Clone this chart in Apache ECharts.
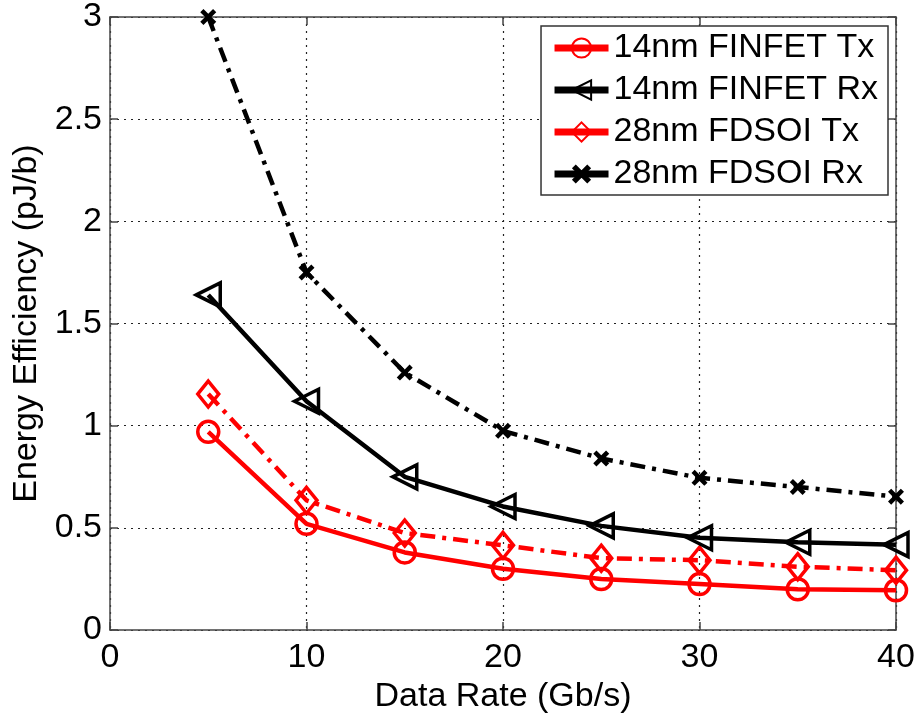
<!DOCTYPE html>
<html>
<head>
<meta charset="utf-8">
<script src="https://cdn.jsdelivr.net/npm/echarts@6/dist/echarts.min.js"></script>
<style>
  html, body { margin: 0; padding: 0; background: #fff; }
  #chart { width: 920px; height: 719px; }
</style>
</head>
<body>
<div id="chart"></div>
<script>
// Data rate (Gb/s)
const dataRates = [5, 10, 15, 20, 25, 30, 35, 40];
// Energy efficiency (pJ/b)
const finfetTx = [0.97, 0.52, 0.38, 0.30, 0.25, 0.225, 0.20, 0.195];
const finfetRx = [1.64, 1.12, 0.75, 0.605, 0.51, 0.452, 0.43, 0.418];
const fdsoiTx  = [1.155, 0.635, 0.475, 0.415, 0.352, 0.342, 0.31, 0.293];
const fdsoiRx  = [3.0, 1.75, 1.26, 0.975, 0.84, 0.745, 0.70, 0.653];

const seriesNames = ['14nm FINFET Tx', '14nm FINFET Rx', '28nm FDSOI Tx', '28nm FDSOI Rx'];

const RED = '#ff0000';
const BLACK = '#000000';
const FONT = '"Liberation Sans", Arial, sans-serif';
const dashDot = [15, 7, 4, 7];
const crossPath = 'path://M2,0 L5,3 L8,0 L10,2 L7,5 L10,8 L8,10 L5,7 L2,10 L0,8 L3,5 L0,2 Z';

const pairs = arr => dataRates.map((x, i) => [x, arr[i]]);

function axisCommon(extra) {
  return Object.assign({
    type: 'value',
    axisLine: { show: true, onZero: false, lineStyle: { color: '#444', width: 1.5 } },
    axisTick: { show: true, inside: true, length: 8, lineStyle: { color: '#444', width: 1.5 } },
    splitLine: { show: false }
  }, extra);
}

const chart = echarts.init(document.getElementById('chart'), null, { renderer: 'canvas' });

chart.setOption({
  backgroundColor: '#ffffff',
  animation: false,
  textStyle: { fontFamily: FONT },
  grid: { left: 110, right: 24, top: 17, bottom: 82 },
  legend: {
    orient: 'vertical',
    right: 32,
    top: 26,
    padding: [5, 10, 4, 10],
    itemWidth: 54,
    itemHeight: 24,
    itemGap: 8,
    backgroundColor: '#fff',
    borderColor: '#333',
    borderWidth: 1.5,
    lineStyle: { width: 7, type: 'solid' },
    textStyle: { fontFamily: FONT, fontSize: 34, lineHeight: 34, color: '#000' },
    data: seriesNames
  },
  xAxis: [
    axisCommon({
      min: 0, max: 40, interval: 10,
      name: 'Data Rate (Gb/s)',
      nameLocation: 'middle',
      nameGap: 45,
      nameTextStyle: { fontFamily: FONT, fontSize: 34, color: '#000' },
      axisLabel: { fontFamily: FONT, fontSize: 34, color: '#000', margin: 11 },
      splitLine: { show: true, lineStyle: { type: [2, 5], color: '#222', width: 1.2 } }
    }),
    axisCommon({ min: 0, max: 40, interval: 10, position: 'top', axisLabel: { show: false } })
  ],
  yAxis: [
    axisCommon({
      min: 0, max: 3, interval: 0.5,
      name: 'Energy Efficiency (pJ/b)',
      nameLocation: 'middle',
      nameGap: 66,
      nameTextStyle: { fontFamily: FONT, fontSize: 34, color: '#000' },
      axisLabel: { fontFamily: FONT, fontSize: 34, color: '#000', margin: 8 },
      splitLine: { show: true, lineStyle: { type: [2, 5], color: '#222', width: 1.2 } }
    }),
    axisCommon({ min: 0, max: 3, interval: 0.5, position: 'right', axisLabel: { show: false } })
  ],
  series: [
    {
      name: seriesNames[0], type: 'line', data: pairs(finfetTx),
      symbol: 'circle', symbolSize: 21,
      lineStyle: { color: RED, width: 4.5, type: 'solid' },
      itemStyle: { color: 'rgba(0,0,0,0)', borderColor: RED, borderWidth: 3.5 },
      z: 4
    },
    {
      name: seriesNames[1], type: 'line', data: pairs(finfetRx),
      symbol: 'triangle', symbolSize: 24, symbolRotate: 90,
      lineStyle: { color: BLACK, width: 4.5, type: 'solid' },
      itemStyle: { color: 'rgba(0,0,0,0)', borderColor: BLACK, borderWidth: 3.5 },
      z: 3
    },
    {
      name: seriesNames[2], type: 'line', data: pairs(fdsoiTx),
      symbol: 'diamond', symbolSize: [21, 26],
      lineStyle: { color: RED, width: 4.5, type: dashDot },
      itemStyle: { color: 'rgba(0,0,0,0)', borderColor: RED, borderWidth: 3.5 },
      z: 2
    },
    {
      name: seriesNames[3], type: 'line', data: pairs(fdsoiRx),
      symbol: crossPath, symbolSize: 16,
      lineStyle: { color: BLACK, width: 4.5, type: dashDot },
      itemStyle: { color: BLACK, borderWidth: 0 },
      z: 1
    }
  ]
});
</script>
</body>
</html>
